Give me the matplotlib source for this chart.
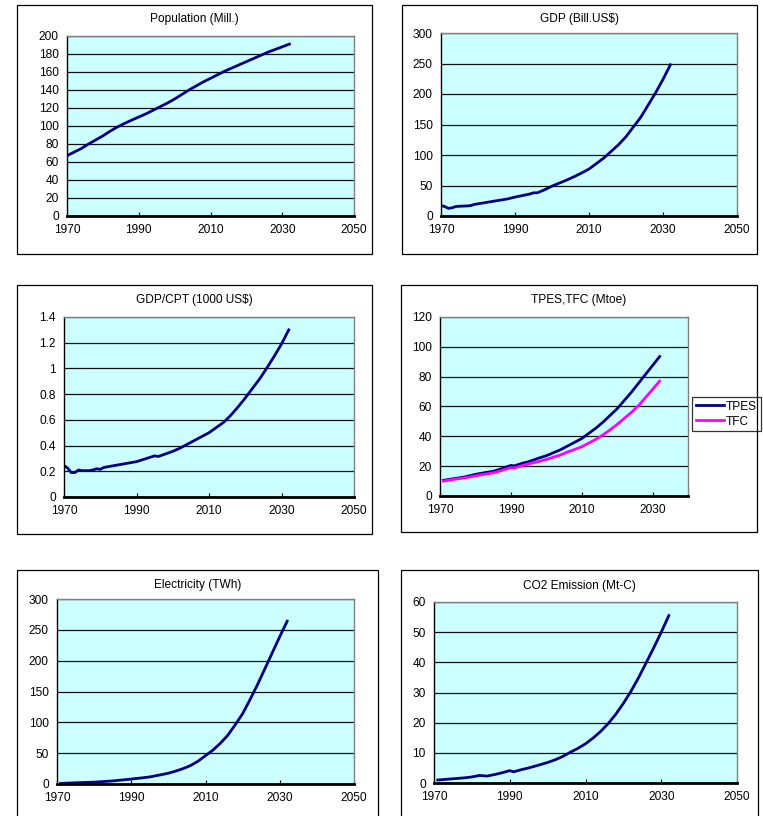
import matplotlib
matplotlib.use("Agg")
import matplotlib.pyplot as plt
from matplotlib.patches import Rectangle

plt.rcParams['font.family'] = ['Liberation Sans', 'DejaVu Sans']
FS = 8.6

# ---------------- data ----------------
pop_years = [1970, 1972, 1974, 1976, 1978, 1980, 1982, 1984, 1986, 1988, 1990, 1992, 1994, 1996,
             1998, 2000, 2002, 2004, 2006, 2008, 2010, 2012, 2014, 2016, 2018, 2020, 2022,
             2024, 2026, 2028, 2030, 2032]
pop_vals = [67, 71, 75, 80, 84.5, 89, 94.2, 98.8, 102.8, 106.5, 110, 113.5, 117.5, 121.5,
            125.5, 130, 135, 140, 144.5, 149, 153, 157, 161, 164.5, 168, 171.5, 175,
            178.5, 182, 185, 188, 191]

gdp_years = [1970, 1971, 1972, 1973, 1974, 1975, 1977, 1978, 1979, 1980, 1982, 1984, 1986, 1988,
             1990, 1992, 1994, 1995, 1996, 1998, 2000, 2002, 2004, 2006, 2008, 2010, 2012,
             2014, 2016, 2018, 2020, 2022, 2024, 2026, 2028, 2030, 2032]
gdp_vals = [17, 15.5, 12.5, 13.5, 15.5, 16, 16.5, 17, 19, 20, 22, 24, 26, 28,
            31, 33.5, 36, 38, 38, 43, 49, 54, 59, 64.5, 70.5, 77, 86,
            95, 106, 117, 130, 146, 162, 182, 202, 224, 248]

gdpc_years = [1970, 1971, 1972, 1973, 1974, 1975, 1976, 1977, 1978, 1979, 1980, 1981, 1985,
              1990, 1995, 1996, 2000, 2002, 2004, 2006, 2008, 2010, 2012, 2014, 2016, 2018,
              2020, 2022, 2024, 2026, 2028, 2030, 2032]
gdpc_vals = [0.245, 0.225, 0.19, 0.19, 0.21, 0.205, 0.205, 0.205, 0.21, 0.22, 0.215, 0.23, 0.25,
             0.275, 0.32, 0.315, 0.355, 0.38, 0.41, 0.44, 0.47, 0.50, 0.54, 0.58, 0.635, 0.70,
             0.77, 0.845, 0.92, 1.005, 1.095, 1.19, 1.30]

en_years = [1971, 1973, 1975, 1977, 1980, 1983, 1985, 1987, 1990, 1991, 1993, 1995, 1998,
            2000, 2002, 2004, 2006, 2008, 2010, 2012, 2014, 2016, 2018, 2020, 2022, 2024,
            2026, 2028, 2030, 2032]
tpes_vals = [10.5, 11.3, 12, 12.8, 14.5, 15.8, 16.5, 18, 20.5, 20.2, 21.8, 23, 25.5,
             27, 29, 31, 33.5, 36, 38.5, 42, 45.5, 49.5, 54, 58.5, 64, 69.5,
             75.5, 81.5, 87.5, 93.5]
tfc_vals = [10, 10.8, 11.5, 12.2, 13.5, 14.8, 15.5, 16.8, 19, 18.8, 20.2, 21.5, 23.2,
            24.5, 26, 27.5, 29.5, 31.2, 33, 35.5, 38, 41, 44.3, 48, 52, 56,
            60.5, 66, 71.5, 77]

el_years = [1971, 1975, 1980, 1985, 1990, 1993, 1995, 1998, 2000, 2002, 2004, 2006, 2008, 2010,
            2012, 2014, 2016, 2018, 2020, 2022, 2024, 2026, 2028, 2030, 2032]
el_vals = [1, 2, 3, 5, 8, 10, 11.5, 15, 17.5, 21, 25, 30, 37, 46,
           55, 66, 79, 96, 114, 137, 161, 187, 213, 239, 264]

co2_years = [1971, 1973, 1975, 1976, 1978, 1980, 1982, 1983, 1984, 1986, 1988, 1990, 1991, 1993,
             1995, 1997, 2000, 2002, 2004, 2006, 2008, 2010, 2012, 2014, 2016, 2018, 2020,
             2022, 2024, 2026, 2028, 2030, 2032]
co2_vals = [1.0, 1.2, 1.4, 1.5, 1.7, 2.0, 2.5, 2.4, 2.3, 2.8, 3.4, 4.1, 3.7, 4.4,
            5.0, 5.7, 6.8, 7.7, 8.8, 10.2, 11.5, 13.0, 14.9, 17.1, 19.7, 22.8, 26.4,
            30.4, 34.9, 39.8, 44.8, 50.0, 55.5]

# ---------------- layout ----------------
W, H = 763, 816
fig = plt.figure(figsize=(W / 100, H / 100), dpi=100)

NAVY = '#000080'
MAG = '#FF00FF'
BG = '#CCFFFF'


def box(x0, x1, y0, y1):
    fig.patches.append(Rectangle((x0 / W, 1 - y1 / H), (x1 - x0) / W, (y1 - y0) / H,
                                 transform=fig.transFigure, fill=False,
                                 edgecolor='black', linewidth=0.9, zorder=0))


def make_ax(x0, x1, y0, y1, title, bx, ylim, yticks, ylabels, xlim=(1970, 2050),
            xticks=(1970, 1990, 2010, 2030, 2050)):
    ax = fig.add_axes([x0 / W, 1 - y1 / H, (x1 - x0) / W, (y1 - y0) / H])
    ax.set_facecolor(BG)
    ax.set_xlim(*xlim)
    ax.set_ylim(*ylim)
    ax.set_yticks(yticks)
    ax.set_yticklabels(ylabels, fontsize=FS)
    ax.set_xticks(xticks)
    ax.set_xticklabels([str(t) for t in xticks], fontsize=FS)
    ax.tick_params(axis='y', length=0, pad=6)
    ax.tick_params(axis='x', direction='in', length=3, width=0.8, pad=6)
    ax.grid(axis='y', color='#111111', linewidth=0.9)
    ax.set_axisbelow(True)
    for s in ('top', 'right'):
        ax.spines[s].set_color('#808080')
        ax.spines[s].set_linewidth(1.0)
    ax.spines['left'].set_color('black')
    ax.spines['left'].set_linewidth(1.0)
    ax.spines['bottom'].set_color('black')
    ax.spines['bottom'].set_linewidth(2.0)
    bx0, bx1, by = bx
    fig.text(((bx0 + bx1) / 2) / W, 1 - by / H, title, ha='center', va='center', fontsize=FS)
    return ax


# Panel 1 - Population
box(17, 372, 5, 254)
ax1 = make_ax(67, 354, 36, 216, 'Population (Mill.)', (17, 372, 19),
              (0, 200), range(0, 201, 20), [str(v) for v in range(0, 201, 20)])
ax1.plot(pop_years, pop_vals, color=NAVY, lw=2.0)

# Panel 2 - GDP
box(402, 757, 5, 254)
ax2 = make_ax(441, 737, 33, 216, 'GDP (Bill.US$)', (402, 757, 19),
              (0, 300), range(0, 301, 50), [str(v) for v in range(0, 301, 50)])
ax2.plot(gdp_years, gdp_vals, color=NAVY, lw=2.0)

# Panel 3 - GDP per capita
box(17, 372, 285, 534)
gl = ['0', '0.2', '0.4', '0.6', '0.8', '1', '1.2', '1.4']
ax3 = make_ax(64, 354, 317, 497, 'GDP/CPT (1000 US$)', (17, 372, 300),
              (0, 1.4), [0, 0.2, 0.4, 0.6, 0.8, 1.0, 1.2, 1.4], gl)
ax3.plot(gdpc_years, gdpc_vals, color=NAVY, lw=2.0)

# Panel 4 - TPES, TFC
box(401, 757, 285, 532)
ax4 = make_ax(440, 688, 317, 496, 'TPES,TFC (Mtoe)', (401, 757, 300),
              (0, 120), range(0, 121, 20), [str(v) for v in range(0, 121, 20)],
              xlim=(1970, 2040), xticks=(1970, 1990, 2010, 2030))
ax4.plot(en_years, tpes_vals, color=NAVY, lw=2.0, label='TPES')
ax4.plot(en_years, tfc_vals, color=MAG, lw=2.0, label='TFC')
leg = ax4.legend(loc='upper left', bbox_to_anchor=(692 / W, 1 - 397 / H),
                 bbox_transform=fig.transFigure, fontsize=FS, frameon=True,
                 fancybox=False, edgecolor='black', handlelength=2.4,
                 handletextpad=0.15, borderpad=0.3, labelspacing=0.25,
                 borderaxespad=0)
leg.get_frame().set_linewidth(0.9)

# Panel 5 - Electricity
box(17, 378, 570, 830)
ax5 = make_ax(57, 354, 599, 784, 'Electricity (TWh)', (17, 378, 585),
              (0, 300), range(0, 301, 50), [str(v) for v in range(0, 301, 50)])
ax5.plot(el_years, el_vals, color=NAVY, lw=2.0)

# Panel 6 - CO2
box(401, 758, 570, 830)
ax6 = make_ax(434, 737, 602, 783, 'CO2 Emission (Mt-C)', (401, 758, 586),
              (0, 60), range(0, 61, 10), [str(v) for v in range(0, 61, 10)])
ax6.plot(co2_years, co2_vals, color=NAVY, lw=2.0)

fig.savefig('out.png', dpi=100, facecolor='white')
